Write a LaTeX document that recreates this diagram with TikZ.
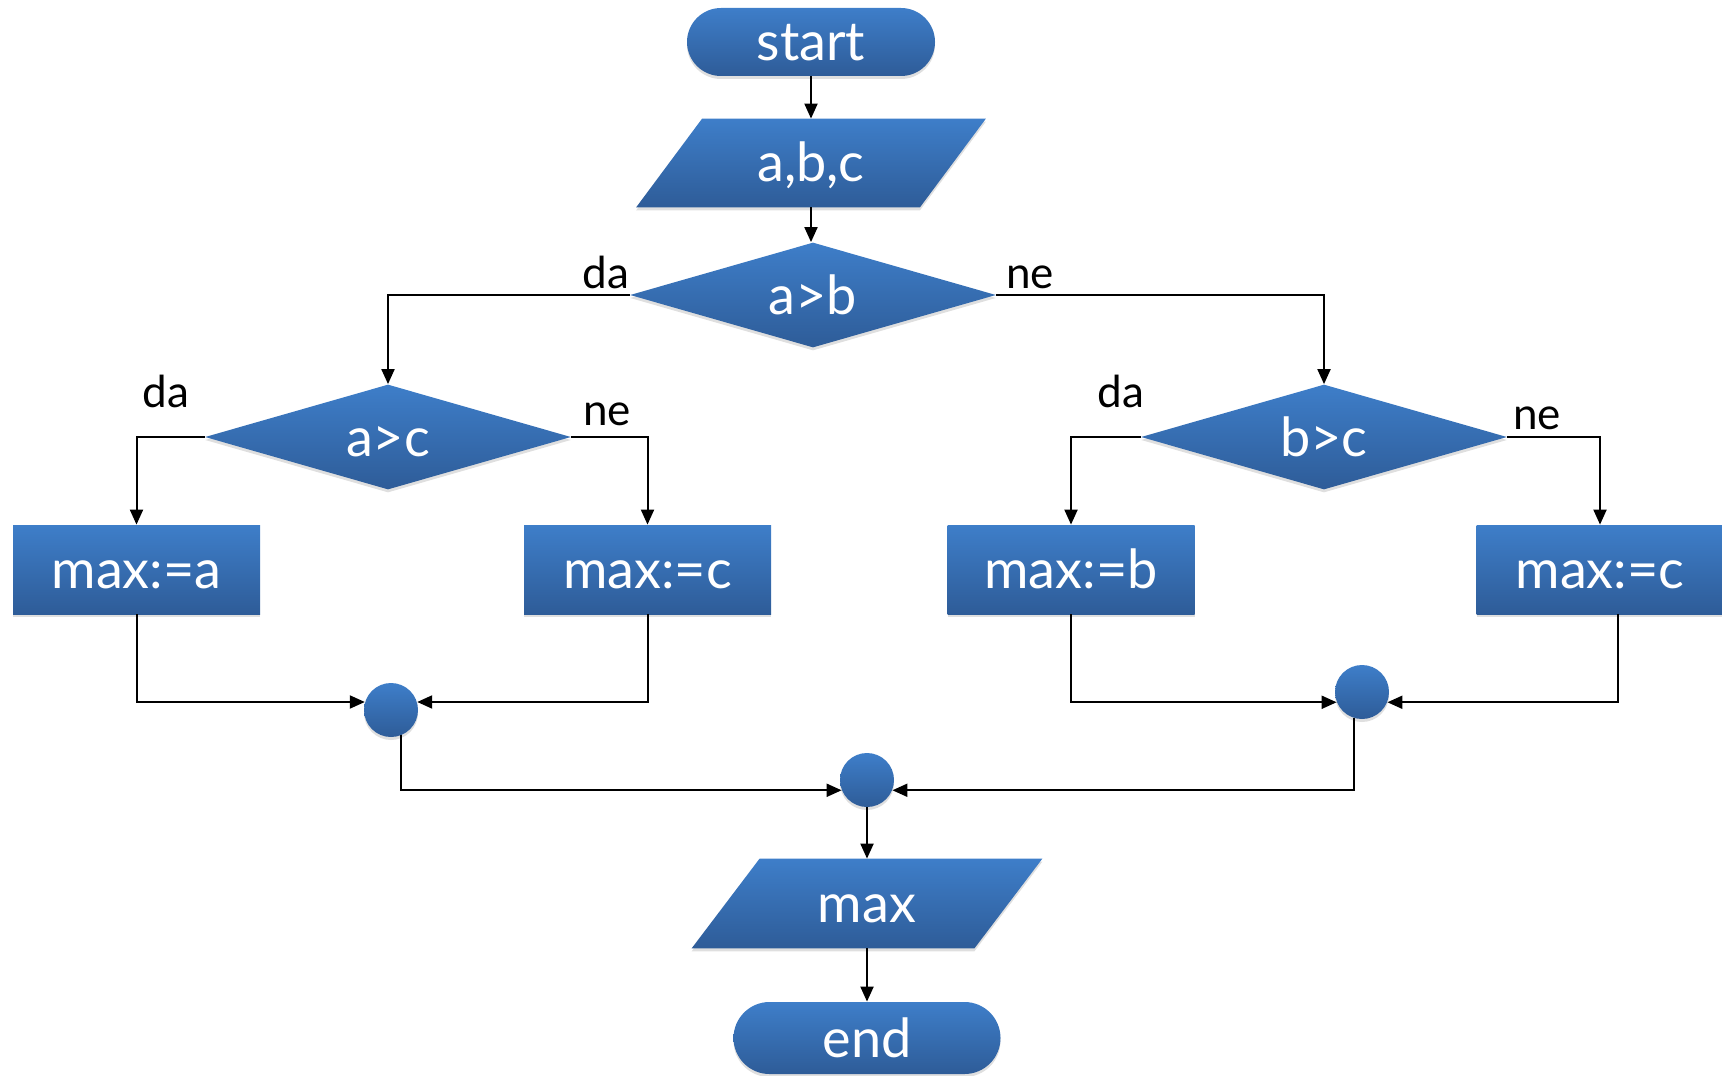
\documentclass[tikz,border=0pt]{standalone}
\usepackage{fontspec}
\setmainfont{Lato}
\usetikzlibrary{shapes.geometric,arrows.meta,shadows,backgrounds}
\definecolor{btop}{RGB}{62,126,201}
\definecolor{bbot}{RGB}{46,92,152}
\begin{document}
\begin{tikzpicture}[x=0.5pt,y=-0.5pt,
  txt/.style={text=white,font=\fontsize{27}{30}\selectfont,inner sep=0pt,
    text height=19pt,text depth=0pt},
  fillc/.style={top color=btop,bottom color=bbot,draw=none,
    drop shadow={opacity=0.25,shadow xshift=0pt,shadow yshift=-1.5pt}},
  blk/.style={txt,fillc},
  term/.style={blk,rectangle,rounded corners=17pt,minimum width=124pt,minimum height=34pt},
  io/.style={txt,rectangle,minimum width=141.5pt,minimum height=44pt},
  para/.style={fillc},
  dec/.style={blk,diamond,aspect=3.5,minimum width=183pt,minimum height=52.5pt},
  proc/.style={blk,rectangle,minimum width=123.5pt,minimum height=44.5pt},
  jn/.style={fillc,circle,inner sep=0pt,minimum size=27pt},
  conn/.style={draw=black,line width=1pt,-{Triangle[length=7.5pt,width=6.5pt]}},
  lbl/.style={font=\fontsize{22}{24}\selectfont,inner sep=0pt,anchor=base west}]
\useasboundingbox (0,0) rectangle (1722,1075);

\node[term] (st) at (811,42) {start};
\node[io] (abc) at (811,163) {a,b,c};
\node[dec] (ab) at (813,295) {a>b};
\node[dec] (ac) at (388,437) {a>c};
\node[dec] (bc) at (1324,437) {b>c};
\node[proc] (ma) at (136.5,569.5) {max:=a};
\node[proc] (mc1) at (647.5,569.5) {max:=c};
\node[proc] (mb) at (1071,569.5) {max:=b};
\node[proc] (mc2) at (1600,569.5) {max:=c};
\node[jn] (j1) at (391,710) {};
\node[jn] (j2) at (1362,692) {};
\node[jn] (jc) at (867,780) {};
\node[io,minimum width=141pt,minimum height=44.5pt] (mx) at (867,903.5) {max};
\node[term,minimum width=133.5pt,minimum height=36pt,rounded corners=18pt] (en) at (867,1038) {end};

\begin{pgfonlayer}{background}
\path[para] ([xshift=16.5pt]abc.north west) -- ([xshift=16.5pt]abc.north east)
  -- ([xshift=-16.5pt]abc.south east) -- ([xshift=-16.5pt]abc.south west) -- cycle;
\path[para] ([xshift=17pt]mx.north west) -- ([xshift=17pt]mx.north east)
  -- ([xshift=-17pt]mx.south east) -- ([xshift=-17pt]mx.south west) -- cycle;
\end{pgfonlayer}

\node[lbl] (l1) at (582,288) {da};
\node[lbl] (l2) at (1006,288) {ne};
\node[lbl] (l3) at (142,407) {da};
\node[lbl] (l4) at (583,425) {ne};
\node[lbl] (l5) at (1097,407) {da};
\node[lbl] (l6) at (1513,429) {ne};

\draw[conn] (st.south) -- (abc.north);
\draw[conn] (abc.south) -- (abc.south |- ab.north);
\draw[conn] (ab.west) -| (ac.north);
\draw[conn] (ab.east) -| (bc.north);
\draw[conn] (ac.west) -| (ma.north);
\draw[conn] (ac.east) -| (mc1.north);
\draw[conn] (bc.west) -| (mb.north);
\draw[conn] (bc.east) -| (mc2.north);
\draw[conn] (ma.south) |- (j1.163);
\draw[conn] (mc1.south) |- (j1.17);
\draw[conn] (mb.south) |- (j2.202);
\draw[conn] ([xshift=9pt]mc2.south) |- (j2.338);
\draw[conn] (j1.292) |- (jc.202);
\draw[conn] (j2.253) |- (jc.338);
\draw[conn] (jc.south) -- (mx.north);
\draw[conn] (mx.south) -- (en.north);
\end{tikzpicture}
\end{document}
